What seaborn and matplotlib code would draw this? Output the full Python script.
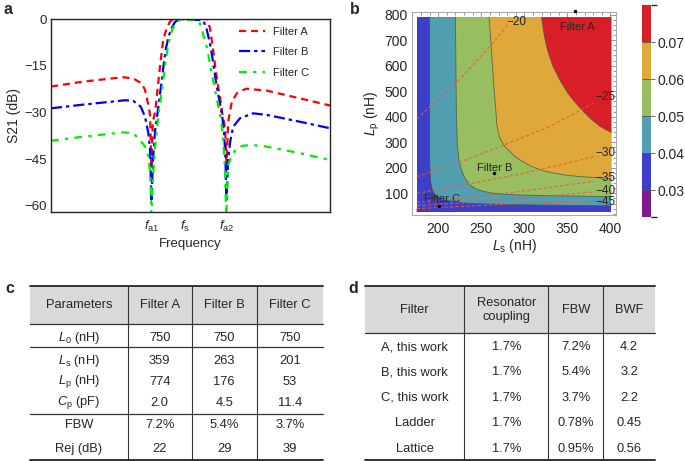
import numpy as np
import pandas as pd
import seaborn as sns
import matplotlib.pyplot as plt
from matplotlib.colors import ListedColormap, BoundaryNorm
from matplotlib.cm import ScalarMappable
from matplotlib.ticker import MultipleLocator

sns.set_theme(style='white')
plt.rcParams['font.family'] = ['Liberation Sans', 'DejaVu Sans']
plt.rcParams['mathtext.fontset'] = 'custom'
plt.rcParams['mathtext.rm'] = 'Liberation Sans'
plt.rcParams['mathtext.it'] = 'Liberation Sans:italic'
plt.rcParams['axes.unicode_minus'] = True

W, H = 685, 461

# ---- panel a: S21 vs frequency (normalised frequency axis, 0-100) ----
freq_ticks = [36.0, 48.0, 62.9]
freq_ticklabels = [r'$f_\mathrm{a1}$', r'$f_\mathrm{s}$', r'$f_\mathrm{a2}$']

fA = [0, 11.6, 25.9, 29.5, 32.5, 33.7, 34.9, 35.5, 36.0, 36.5, 37.3, 37.9, 38.5,
      39.1, 39.7, 40.2, 41.5, 42.6, 43.8, 48.0, 52.0, 55.9, 57.0, 57.6, 58.2, 58.8,
      59.6, 60.6, 61.5, 62.4, 62.9, 63.5, 64.8, 66.6, 68.9, 70.1, 77.3, 89.2, 100]
sA = [-21.7, -20.1, -18.7, -19.1, -20.7, -22.8, -27.6, -30.8, -48, -33, -30, -25, -20,
      -15, -10.5, -6.7, -2.9, -0.9, 0, 0, 0, 0, -3, -6.7, -10.5, -14.8,
      -20, -25.4, -30.8, -35, -48, -33, -26.6, -23.9, -22.8, -22.4, -23, -25.5, -27.8]

fB = [0, 11.6, 26.6, 29.5, 32.2, 33.7, 34.9, 35.5, 36.0, 36.6, 37.3, 38.1, 38.9, 39.7,
      40.4, 41.2, 42.2, 43.2, 44.4, 45.6, 48.0, 51.0, 54.0, 54.9, 55.7, 56.5, 57.3,
      58.2, 59.1, 60.2, 61.3, 62.0, 62.5, 62.9, 63.5, 64.3, 65.3, 67.7, 72.5, 77.3, 89.2, 100]
sB = [-28.7, -27.5, -26.1, -26.3, -28.2, -31.4, -36.7, -42, -58, -45, -36, -30.8, -25, -20,
      -14.5, -9.4, -5.5, -3, -1, -0.2, 0, -0.3, -0.3, -1.2, -3, -6, -9.4,
      -14.5, -20, -25.5, -30.8, -36, -44, -58, -45, -39, -34.6, -31.9, -30.3, -30.8, -33, -35.1]

fC = [0, 11.6, 25.9, 29.5, 31.9, 33.7, 34.9, 35.6, 36.0, 36.6, 37.3, 38.5, 39.7, 40.9,
      42.0, 43.0, 44.5, 46.2, 48.0, 52.8, 54.0, 55.2, 56.0, 57.0, 58.2, 59.4, 60.6,
      61.5, 62.3, 62.8, 63.5, 64.8, 66.6, 68.9, 72.5, 77.3, 89.2, 100]
sC = [-39.1, -37.8, -36.4, -36.7, -38.9, -41, -44.2, -50, -63, -50, -41.5, -30.8, -23.3, -14.8,
      -8.4, -4.5, -1.2, -0.3, -0.3, -0.3, -3, -7.3, -9.4, -14.8, -20.1, -25.5, -30.8,
      -36.2, -46.9, -63, -46.9, -43.7, -41.5, -40.7, -40.5, -41, -43.1, -45.3]

# ---- panel b: FBW regions and rejection contours ----
ls_range = [175, 401]
lp_range = [27, 790]
fbw_levels = [0.03, 0.04, 0.05, 0.06, 0.07]
fbw_bounds = [0.0227, 0.03, 0.04, 0.05, 0.06, 0.07, 0.08]
fbw_colors = ['#7b1a8c', '#3d3fcb', '#519fb0', '#98be60', '#dea83b', '#d81f27']

b03_ls = [175, 182, 195, 220]
b03_lp = [38, 32, 29, 27]
b04_ls = [190, 190, 190, 191, 193, 196, 200, 208, 219, 235, 258, 316, 401]
b04_lp = [790, 400, 230, 150, 115, 95, 84, 74, 67, 61, 58, 54, 51]
b05_ls = [220, 220.5, 221, 222, 224, 227, 231, 236, 243, 252, 262, 280, 300, 340, 401]
b05_lp = [790, 600, 430, 300, 230, 190, 160, 135, 118, 108, 101, 96, 93, 90, 87]
b06_ls = [259, 261, 263, 265, 267, 268, 271, 277, 289, 300, 309, 322, 336, 350, 367, 385, 401]
b06_lp = [790, 700, 600, 500, 420, 370, 320, 285, 244, 220, 204, 188, 178, 170, 165, 161, 158]
b07_ls = [320, 323, 327, 333, 341, 350, 358, 366, 376, 388, 401]
b07_lp = [790, 720, 660, 600, 545, 495, 460, 430, 395, 362, 338]

rej_labels = ['\u221220', '\u221225', '\u221230', '\u221235', '\u221240', '\u221245']
rej_ls = [[175, 184, 219, 262, 281],
          [175, 230, 283, 330, 359, 382],
          [175, 230, 290, 340, 382],
          [175, 230, 290, 340, 382],
          [175, 240, 295, 382],
          [175, 295, 382]]
rej_lp = [[390, 420, 525, 682, 762],
          [165, 228, 298, 362, 414, 457],
          [100, 133, 172, 210, 245],
          [65, 82, 105, 128, 148],
          [52, 65, 80, 106],
          [40, 60, 67]]
rej_label_ls = [291, 394, 394, 394, 394, 394]
rej_label_lp = [770, 479, 259, 161, 109, 66]

filt_names = ['Filter A', 'Filter B', 'Filter C']
filt_ls = [359, 265, 201]
filt_lp = [815, 178, 51]
filt_text_ls = [362, 266, 204]
filt_text_lp = [752, 201, 78]

# ---- tables ----
c_header = ['Parameters', 'Filter A', 'Filter B', 'Filter C']
c_rows = [[r'$L_0$ (nH)', '750', '750', '750'],
          [r'$L_\mathrm{s}$ (nH)', '359', '263', '201'],
          [r'$L_\mathrm{p}$ (nH)', '774', '176', '53'],
          [r'$C_\mathrm{p}$ (pF)', '2.0', '4.5', '11.4'],
          ['FBW', '7.2%', '5.4%', '3.7%'],
          ['Rej (dB)', '22', '29', '39']]
d_header = ['Filter', 'Resonator\ncoupling', 'FBW', 'BWF']
d_rows = [['A, this work', '1.7%', '7.2%', '4.2'],
          ['B, this work', '1.7%', '5.4%', '3.2'],
          ['C, this work', '1.7%', '3.7%', '2.2'],
          ['Ladder', '1.7%', '0.78%', '0.45'],
          ['Lattice', '1.7%', '0.95%', '0.56']]

fig = plt.figure(figsize=(W / 100, H / 100), dpi=100)

# overlay axes in pixel units for tables and panel letters
axt = fig.add_axes([0, 0, 1, 1])
axt.set_xlim(0, W)
axt.set_ylim(H, 0)
axt.axis('off')

# ===== panel a =====
ax = fig.add_axes([51 / W, 1 - 212 / H, 279 / W, 193 / H])
styles = [('#ff0000', (0, (3.2, 2.2))), ('#0000ff', (0, (5, 1.8, 1.5, 1.8))),
          ('#00ee00', (0, (3.5, 2.8, 1.5, 2.8)))]
for (f, s), (c, ls), lab in zip([(fA, sA), (fB, sB), (fC, sC)], styles, filt_names):
    sns.lineplot(x=f, y=s, ax=ax, color=c, linestyle=ls, lw=1.6, label=lab, sort=False)
ax.set_xlim(0, 100)
ax.set_ylim(-62, 0)
ax.set_yticks([0, -15, -30, -45, -60])
ax.set_xticks(freq_ticks)
ax.set_xticklabels(freq_ticklabels)
ax.tick_params(direction='in', length=3, width=0.8, labelsize=9.5, color='#222222')
ax.tick_params(axis='x', pad=5)
ax.tick_params(axis='y', pad=3)
ax.set_xlabel('Frequency', fontsize=9.5, labelpad=3)
ax.set_ylabel('S21 (dB)', fontsize=10, labelpad=2)
for sp in ax.spines.values():
    sp.set_color('#222222')
    sp.set_linewidth(1.0)
ax.legend(loc='upper left', bbox_to_anchor=(0.645, 1.0), frameon=False, fontsize=8,
          handlelength=2.4, handletextpad=0.7, labelspacing=0.95, borderpad=0.2)

# ===== panel b =====
axb = fig.add_axes([412 / W, 1 - 215 / H, 204 / W, 203 / H])
axb.fill([ls_range[0], ls_range[1], ls_range[1], ls_range[0]],
         [lp_range[0], lp_range[0], lp_range[1], lp_range[1]], color=fbw_colors[1], lw=0)
axb.fill(b03_ls + [ls_range[0]], b03_lp + [lp_range[0]], color=fbw_colors[0], lw=0)
for bl, bp, col in zip([b04_ls, b05_ls, b06_ls, b07_ls], [b04_lp, b05_lp, b06_lp, b07_lp],
                       fbw_colors[2:]):
    axb.fill(bl + [ls_range[1]], bp + [lp_range[1]], color=col, lw=0)
    axb.plot(bl, bp, color='#4d5040', lw=0.6, alpha=0.8)
axb.plot(b03_ls, b03_lp, color='#4d5040', lw=0.5, alpha=0.6)

for xs, ys in zip(rej_ls, rej_lp):
    axb.plot(xs, ys, color='#f0592c', lw=0.8, dashes=(3, 2), alpha=0.85)
for lab, x, y in zip(rej_labels, rej_label_ls, rej_label_lp):
    axb.text(x, y, lab, fontsize=8.5, ha='center', va='center')

sns.scatterplot(x=filt_ls, y=filt_lp, ax=axb, color='black', s=6, linewidth=0,
                clip_on=False, zorder=5)
for name, x, y in zip(filt_names, filt_text_ls, filt_text_lp):
    axb.text(x, y, name, fontsize=8, ha='center', va='center')

axb.set_xlim(169.5, 406.5)
axb.set_ylim(15, 810)
axb.set_xticks([200, 250, 300, 350, 400])
axb.set_yticks([100, 200, 300, 400, 500, 600, 700, 800])
axb.xaxis.set_minor_locator(MultipleLocator(10))
axb.yaxis.set_minor_locator(MultipleLocator(20))
axb.tick_params(which='both', direction='in', top=True, right=True, color='#888888', width=0.6)
axb.tick_params(which='major', length=4, labelsize=10)
axb.tick_params(axis='x', which='major', pad=5)
axb.tick_params(axis='y', which='major', pad=3)
axb.tick_params(which='minor', length=2)
for sp in axb.spines.values():
    sp.set_color('#aaaaaa')
    sp.set_linewidth(0.8)
axb.set_xlabel(r'$L_\mathrm{s}$ (nH)', fontsize=10, labelpad=1)
axb.set_ylabel(r'$L_\mathrm{p}$ (nH)', fontsize=10, labelpad=2)

# colorbar
cax = fig.add_axes([641.7 / W, 1 - 217.3 / H, 9.3 / W, 212.3 / H])
cmap = ListedColormap(fbw_colors)
norm = BoundaryNorm(fbw_bounds, cmap.N)
cb = fig.colorbar(ScalarMappable(norm=norm, cmap=cmap), cax=cax, ticks=fbw_levels,
                  spacing='proportional', drawedges=True)
cb.outline.set_visible(False)
cb.dividers.set_color('#555555')
cb.dividers.set_linewidth(0.6)
cax.set_yticklabels(['%.2f' % v for v in fbw_levels])
cax.tick_params(length=3, width=0.6, color='#555555', labelsize=10, pad=2)


# ===== tables =====
def draw_table(header, rows, edges, top, head_bot, row_y, bottom, rules):
    axt.fill_between([edges[0], edges[-1]], top, head_bot, color='#d9d9d9', lw=0)
    for x in edges[1:-1]:
        axt.plot([x, x], [top, bottom], color='#333333', lw=0.8)
    axt.plot([edges[0], edges[-1]], [top, top], color='#333333', lw=1.4)
    axt.plot([edges[0], edges[-1]], [bottom, bottom], color='#333333', lw=1.4)
    for y in [head_bot] + rules:
        axt.plot([edges[0], edges[-1]], [y, y], color='#333333', lw=0.9)
    centers = [(a + b) / 2 for a, b in zip(edges[:-1], edges[1:])]
    for cx, txt in zip(centers, header):
        axt.text(cx, (top + head_bot) / 2, txt, fontsize=9.3, ha='center', va='center',
                 linespacing=1.2)
    for y, row in zip(row_y, rows):
        for cx, txt in zip(centers, row):
            axt.text(cx, y, txt, fontsize=9.3, ha='center', va='center')


draw_table(c_header, c_rows, [30, 127.7, 191.7, 256.7, 323.3], 286, 324,
           [338.3, 360.7, 381.7, 402.7, 425.3, 449.3], 460, [347.3, 414])
draw_table(d_header, d_rows, [365, 464.3, 548.3, 603.3, 655], 286, 333.3,
           [347.3, 372.3, 397.7, 423.3, 448.7], 460, [])

for lab, x, y in [('a', 8, 9), ('b', 355, 10), ('c', 10, 288), ('d', 353, 288)]:
    axt.text(x, y, lab, fontsize=11.5, fontweight='bold', ha='center', va='center')

fig.savefig('out.png', dpi=100)
